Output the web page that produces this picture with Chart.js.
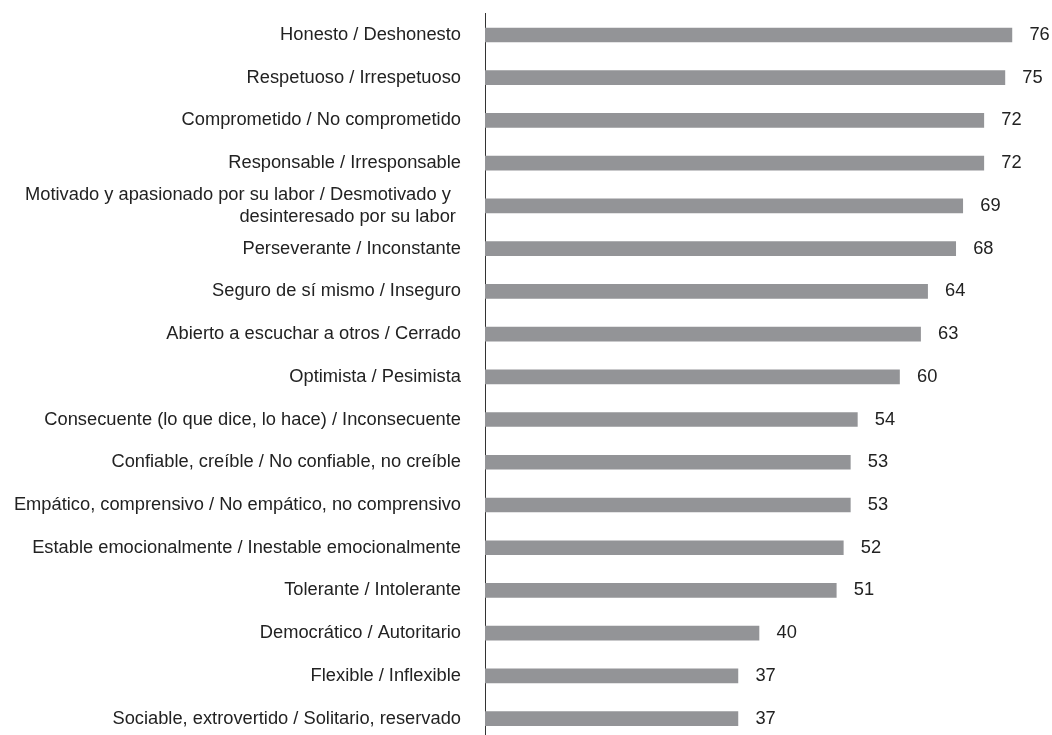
<!DOCTYPE html>
<html>
<head>
<meta charset="utf-8">
<script src="https://cdn.jsdelivr.net/npm/chart.js@4/dist/chart.umd.min.js"></script>
<style>
  html, body { margin: 0; padding: 0; background: #fff; overflow: hidden; width: 1052px; height: 735px; }
  #c { position: absolute; left: 0; top: 0; }
</style>
</head>
<body>
<canvas id="c" width="1052" height="740" style="width:1052px;height:740px"></canvas>
<script>
const categories = [
  "Honesto / Deshonesto",
  "Respetuoso / Irrespetuoso",
  "Comprometido / No comprometido",
  "Responsable / Irresponsable",
  ["Motivado y apasionado por su labor / Desmotivado y  ", "desinteresado por su labor "],
  "Perseverante / Inconstante",
  "Seguro de sí mismo / Inseguro",
  "Abierto a escuchar a otros / Cerrado",
  "Optimista / Pesimista",
  "Consecuente (lo que dice, lo hace) / Inconsecuente",
  "Confiable, creíble / No confiable, no creíble",
  "Empático, comprensivo / No empático, no comprensivo",
  "Estable emocionalmente / Inestable emocionalmente",
  "Tolerante / Intolerante",
  "Democrático / Autoritario",
  "Flexible / Inflexible",
  "Sociable, extrovertido / Solitario, reservado"
];
const values = [76, 75, 72, 72, 69, 68, 64, 63, 60, 54, 53, 53, 52, 51, 40, 37, 37];

const FONT = "'Liberation Sans', Arial, Helvetica, sans-serif";
const FSIZE = 18.3;

const valueLabels = {
  id: 'valueLabels',
  afterDatasetsDraw(chart) {
    const ctx = chart.ctx;
    const meta = chart.getDatasetMeta(0);
    ctx.save();
    ctx.font = FSIZE + "px " + FONT;
    ctx.fillStyle = '#222';
    ctx.textAlign = 'left';
    ctx.textBaseline = 'middle';
    meta.data.forEach((bar, i) => {
      ctx.fillText(String(values[i]), bar.x + 17.5, bar.y);
    });
    ctx.restore();
  }
};

new Chart(document.getElementById('c'), {
  type: 'bar',
  data: {
    labels: categories,
    datasets: [{
      data: values,
      backgroundColor: '#939497',
      borderWidth: 0,
      barThickness: 14
    }]
  },
  options: {
    indexAxis: 'y',
    responsive: false,
    animation: false,
    layout: { padding: { top: 13.6, right: 12, bottom: 0, left: 0 } },
    plugins: { legend: { display: false }, tooltip: { enabled: false } },
    scales: {
      x: {
        display: false,
        min: 1,
        max: 80
      },
      y: {
        grid: { display: false, drawTicks: false },
        border: { display: true, color: '#333', width: 1 },
        ticks: {
          color: '#222',
          padding: 24,
          autoSkip: false,
          font: { family: FONT, size: FSIZE }
        },
        afterFit(scale) {
          scale.width = 485;
          scale.paddingTop = 0;
          scale.paddingBottom = 0;
        }
      }
    }
  },
  plugins: [valueLabels]
});
</script>
</body>
</html>
